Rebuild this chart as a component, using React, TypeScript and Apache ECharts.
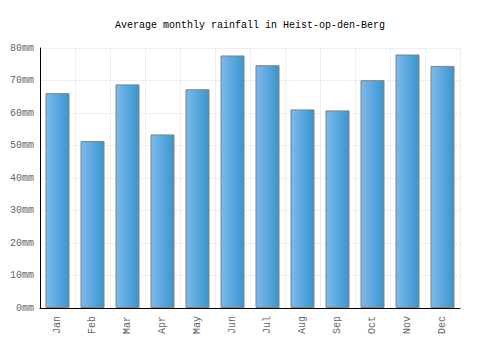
import React, { useEffect, useRef } from "react";
import * as echarts from "echarts";

const months = ["Jan", "Feb", "Mar", "Apr", "May", "Jun", "Jul", "Aug", "Sep", "Oct", "Nov", "Dec"];
const rainfall = [66.1, 51.4, 68.8, 53.4, 67.3, 77.7, 74.7, 61.1, 60.8, 70.1, 78.0, 74.5];
const yTicks = { min: 0, max: 80, interval: 10 };

const FONT = "'Liberation Mono', monospace";

export default function App() {
  const ref = useRef<HTMLDivElement>(null);
  useEffect(() => {
    const chart = echarts.init(ref.current!, null, { renderer: "svg" });
    chart.setOption({
      animation: false,
      title: {
        text: "Average monthly rainfall in Heist-op-den-Berg",
        left: "center",
        top: 15,
        textStyle: { fontFamily: FONT, fontSize: 10, fontWeight: "normal", color: "#000" },
      },
      grid: { left: 40, right: 40, top: 48, bottom: 42 },
      xAxis: {
        type: "category",
        data: months,
        axisLine: { lineStyle: { color: "#000", width: 1 } },
        axisTick: { show: false },
        splitLine: { show: true, lineStyle: { color: "#eeeeee" } },
        axisLabel: { rotate: 90, color: "#666", fontFamily: FONT, fontSize: 10, margin: 8, interval: 0 },
      },
      yAxis: {
        type: "value",
        min: yTicks.min,
        max: yTicks.max,
        interval: yTicks.interval,
        axisLine: { show: true, lineStyle: { color: "#000", width: 1 } },
        axisTick: { show: false },
        splitLine: { show: true, lineStyle: { color: "#eeeeee" } },
        axisLabel: { formatter: "{value}mm", color: "#666", fontFamily: FONT, fontSize: 10, margin: 6 },
      },
      series: [
        {
          type: "bar",
          data: rainfall,
          barWidth: 24,
          itemStyle: {
            borderColor: "#808080",
            borderWidth: 1,
            color: new echarts.graphic.LinearGradient(0, 0, 1, 0, [
              { offset: 0, color: "#7db9ec" },
              { offset: 1, color: "#3896cf" },
            ]),
          },
        },
      ],
    });
    return () => chart.dispose();
  }, []);
  return <div ref={ref} style={{ position: "absolute", left: 0, top: 0, width: 500, height: 350 }} />;
}
